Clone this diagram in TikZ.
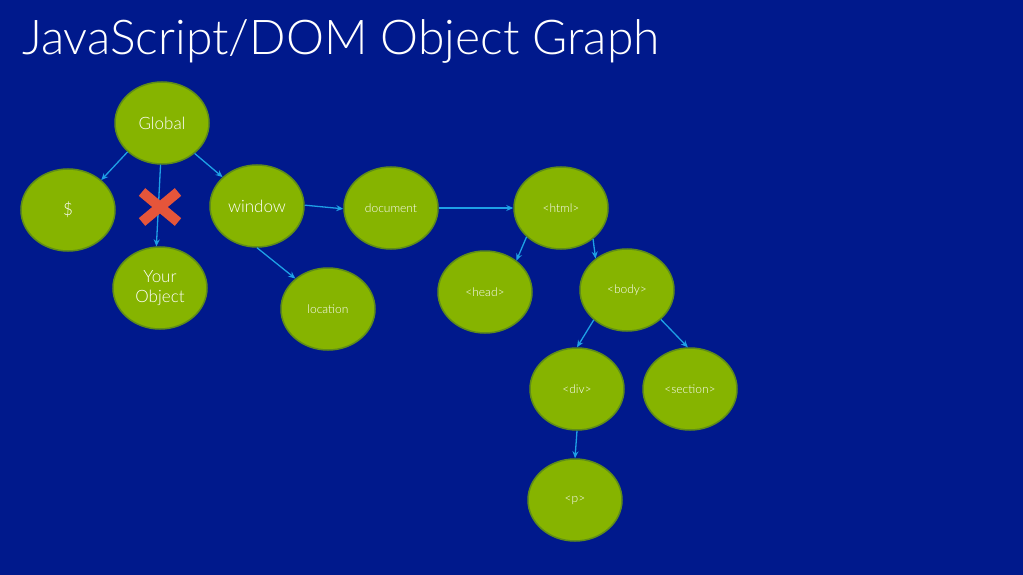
\documentclass[tikz,border=0pt]{standalone}
\usepackage{fontspec}
\setmainfont{Lato Light}
\usetikzlibrary{shapes.geometric,arrows.meta}
\definecolor{bg}{HTML}{00198C}
\definecolor{nodefill}{HTML}{86B400}
\definecolor{nodeline}{HTML}{5E8C1A}
\definecolor{edgeblue}{HTML}{1EA0E6}
\definecolor{xred}{HTML}{E5553A}
\tikzset{
  nd/.style={ellipse, draw=nodeline, fill=nodefill, line width=1.5pt,
    minimum width=94pt, minimum height=82pt, inner sep=0pt, text=white,
    align=center},
  big/.style={font=\fontsize{17}{20}\selectfont},
  small/.style={font=\fontsize{12}{14}\selectfont},
  edge/.style={draw=edgeblue, line width=1.3pt, -{Stealth[length=7pt,width=6pt]}},
  xbar/.style={draw=xred, line width=10pt}
}
\begin{document}
\begin{tikzpicture}[x=1pt,y=-1pt]
\useasboundingbox (0,0) rectangle (1023,575);
\fill[bg] (0,0) rectangle (1023,575);
\node[anchor=base west, text=white, inner sep=0pt, font=\fontsize{48}{56}\selectfont] (title) at (22,55) {JavaScript/DOM Object Graph};

\node[nd,big] (global) at (162,123) {Global};
\node[nd,big] (dollar) at (68,210) {\$};
\node[nd,big] (window) at (257,206) {window};
\node[nd,big] (your) at (160,288) {Your\\Object};
\node[nd,small] (location) at (328,309) {location};
\node[nd,small] (document) at (391,208) {document};
\node[nd,small] (html) at (561,208) {<html>};
\node[nd,small] (head) at (485,292) {<head>};
\node[nd,small] (body) at (627,290) {<body>};
\node[nd,small] (div) at (577,389) {<div>};
\node[nd,small] (section) at (690,389) {<section>};
\node[nd,small] (p) at (575,500) {<p>};

\draw[edge] (global.220) -- (dollar.42);
\draw[edge] (global.268) -- (your.95);
\draw[edge] (global.317) -- (window.140);
\draw[edge] (window.1) -- (document.181);
\draw[edge] (window.270) -- (location.137);
\draw[edge] (document.0) -- (html.180);
\draw[edge] (html.220) -- (head.45);
\draw[edge] (html.316) -- (body.135);
\draw[edge] (body.222) -- (div.90);
\draw[edge] (body.319) -- (section.93);
\draw[edge] (div.270) -- (p.90);

\coordinate (xa) at (142,192);
\coordinate (xb) at (178,222);
\coordinate (xc) at (142,222);
\coordinate (xd) at (178,192);
\draw[xbar] (xa) -- (xb);
\draw[xbar] (xc) -- (xd);
\end{tikzpicture}
\end{document}
